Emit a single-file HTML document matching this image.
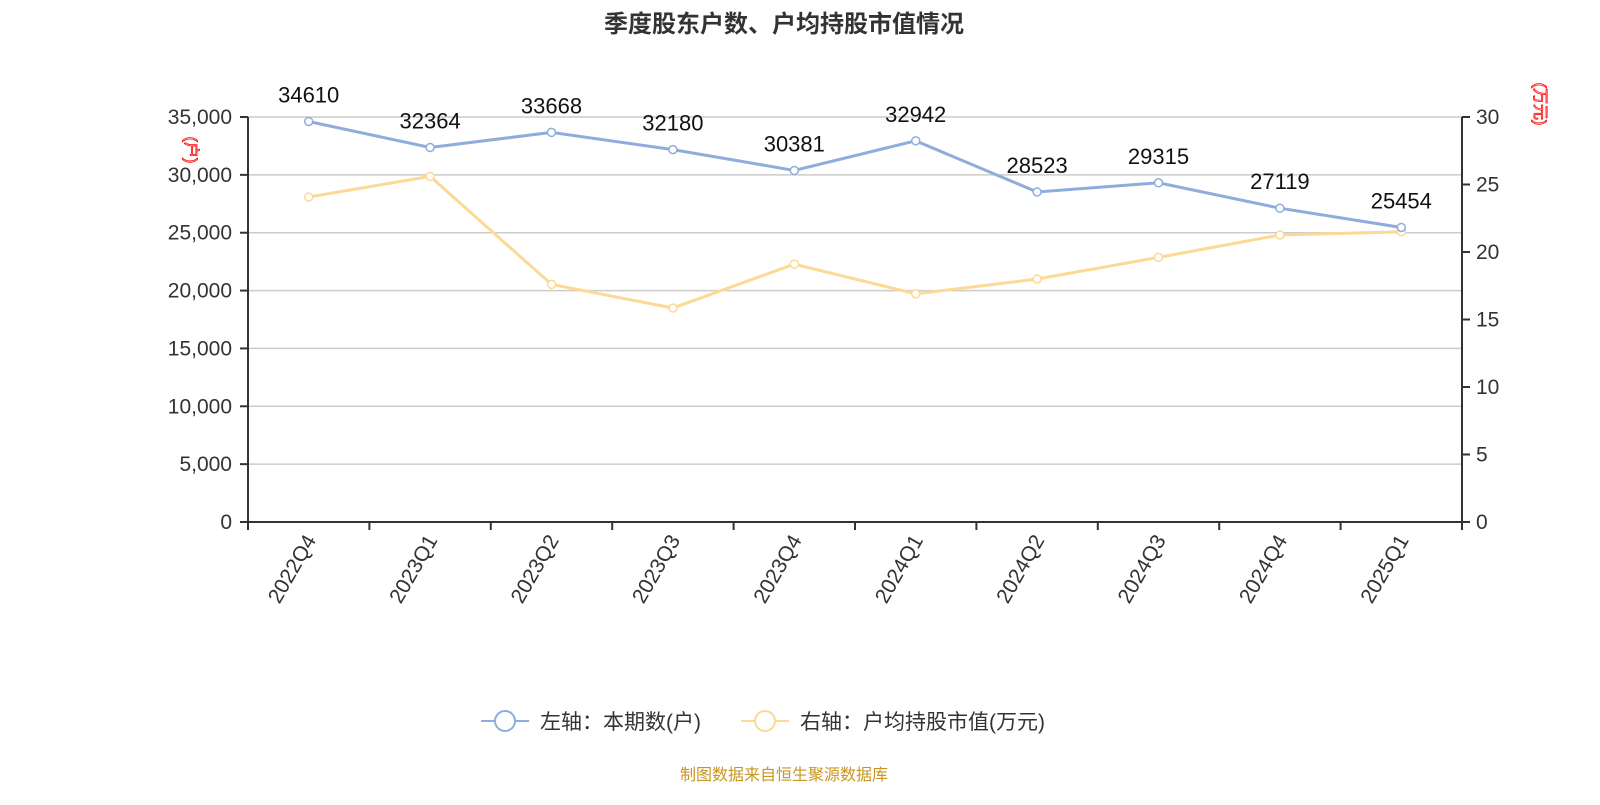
<!DOCTYPE html>
<html><head><meta charset="utf-8"><style>
body{margin:0;background:#fff;width:1600px;height:800px;overflow:hidden;font-family:"Liberation Sans","Noto Sans CJK SC",sans-serif}
</style></head><body>
<svg id="c" width="1600" height="800" xmlns="http://www.w3.org/2000/svg" font-family="Liberation Sans, Noto Sans CJK SC, sans-serif">
<text x="784" y="32" text-anchor="middle" font-size="24" font-weight="bold" fill="#333">季度股东户数、户均持股市值情况</text>
<text transform="translate(186,150) rotate(90)" text-anchor="middle" font-size="16" fill="none" stroke="#f00" stroke-width="0.8">(户)</text>
<text transform="translate(1535,104) rotate(90)" text-anchor="middle" font-size="16" fill="none" stroke="#f00" stroke-width="0.8">(万元)</text>
<g id="legend">
<g>
<line x1="481" y1="721" x2="529" y2="721" stroke="#8eaddc" stroke-width="2"/>
<circle cx="505" cy="721" r="10" fill="#fff" stroke="#8eaddc" stroke-width="2"/>
<text x="540" y="729" font-size="21" fill="#333">左轴：本期数(户)</text></g>
<g>
<line x1="741" y1="721" x2="789" y2="721" stroke="#fcd994" stroke-width="2"/>
<circle cx="765" cy="721" r="10" fill="#fff" stroke="#fcd994" stroke-width="2"/>
<text x="800" y="729" font-size="21" fill="#333">右轴：户均持股市值(万元)</text></g>
</g>
<text x="784" y="780" text-anchor="middle" font-size="16" fill="#c8961e">制图数据来自恒生聚源数据库</text>
</svg>
<script>
const categories=["2022Q4","2023Q1","2023Q2","2023Q3","2023Q4","2024Q1","2024Q2","2024Q3","2024Q4","2025Q1"];
const holders=[34610,32364,33668,32180,30381,32942,28523,29315,27119,25454];
const marketValue=[24.07,25.6,17.6,15.85,19.1,16.9,18.0,19.6,21.26,21.5];
const leftTicks=[0,5000,10000,15000,20000,25000,30000,35000];
const rightTicks=[0,5,10,15,20,25,30];
const svg=document.getElementById('c');const NS='http://www.w3.org/2000/svg';
const L=248,R=1462,T=117,B=522;
const yl=v=>B-(v/35000)*(B-T);
const yr=v=>B-(v/30)*(B-T);
const bw=(R-L)/categories.length;
const x=i=>L+bw*(i+0.5);
function mk(tag,attrs,parent){const e=document.createElementNS(NS,tag);for(const k in attrs)e.setAttribute(k,attrs[k]);(parent||svg).appendChild(e);return e;}
const grid=mk('g',{});


leftTicks.forEach(v=>{
 if(v>0){const g=mk('line',{x1:L,x2:R,y1:yl(v),y2:yl(v),stroke:'#ccc','stroke-width':1.5},grid);}
 mk('line',{x1:L-8,x2:L,y1:yl(v),y2:yl(v),stroke:'#333','stroke-width':2});
 const t=mk('text',{x:L-16,y:yl(v)+7,'text-anchor':'end','font-size':21,fill:'#333'});
 
 
 t.textContent=v.toLocaleString('en-US');
});
rightTicks.forEach(v=>{
 mk('line',{x1:R,x2:R+8,y1:yr(v),y2:yr(v),stroke:'#333','stroke-width':2});
 const t=mk('text',{x:R+14,y:yr(v)+7,'font-size':21,fill:'#333'});
 
 
 t.textContent=v;
});
mk('line',{x1:L,x2:L,y1:T,y2:B,stroke:'#333','stroke-width':2});
mk('line',{x1:R,x2:R,y1:T,y2:B,stroke:'#333','stroke-width':2});
mk('line',{x1:L,x2:R,y1:B,y2:B,stroke:'#333','stroke-width':2});
for(let i=0;i<=categories.length;i++)mk('line',{x1:L+bw*i,x2:L+bw*i,y1:B,y2:B+8,stroke:'#333','stroke-width':2});
categories.forEach((c,i)=>{
 const t=mk('text',{transform:`translate(${x(i)+8},${B+18}) rotate(-60)`,'text-anchor':'end','font-size':21,fill:'#333'});
 
 
 t.textContent=c;
});
function series(vals,yf,color,name,labels){
 const p=mk('polyline',{points:vals.map((v,i)=>x(i)+','+yf(v)).join(' '),fill:'none',stroke:color,'stroke-width':3});
 
 
 vals.forEach((v,i)=>{
  const c=mk('circle',{cx:x(i),cy:yf(v),r:4,fill:'#fff',stroke:color,'stroke-width':1.5});
  
  
  if(labels){const t=mk('text',{x:x(i),y:yf(v)-19,'text-anchor':'middle','font-size':22,fill:'#111'});
  
  
  t.textContent=v;}
 });
}
series(marketValue,yr,'#fcd994','market-value',false);
series(holders,yl,'#8eaddc','holders',true);
</script>
</body></html>
